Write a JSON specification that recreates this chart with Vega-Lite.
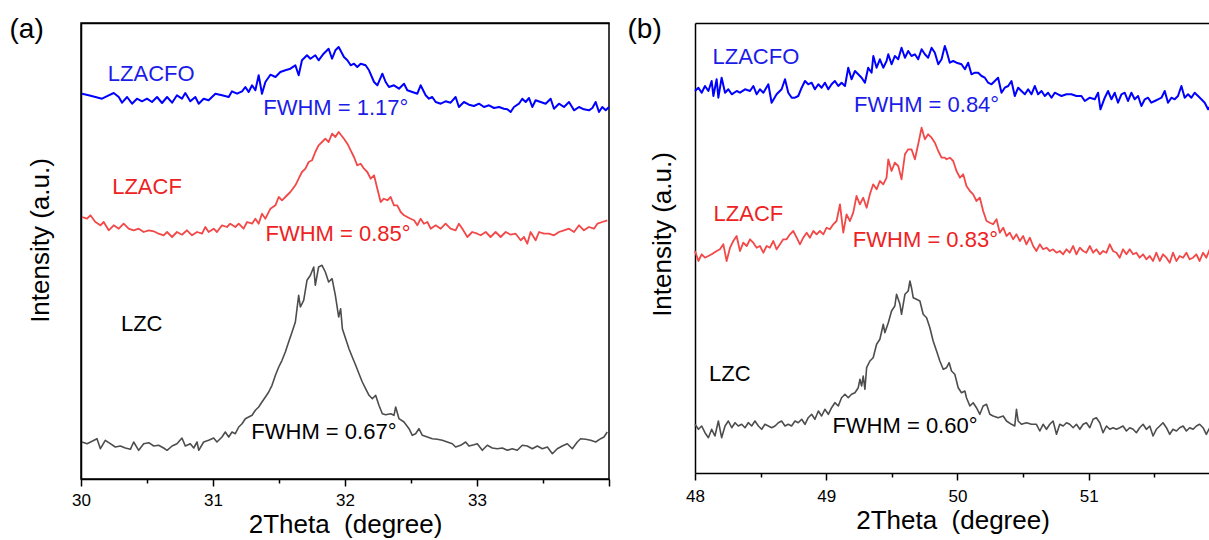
{
"$schema": "https://vega.github.io/schema/vega-lite/v6.json",
"background": "white",
"padding": {"left": 8, "top": 14, "right": 0, "bottom": 0},
"spacing": 16,
"config": {
  "font": "Liberation Sans",
  "axis": {"labelFont": "Liberation Sans", "titleFont": "Liberation Sans", "titleFontWeight": "normal", "labelColor": "#000", "titleColor": "#000", "domainColor": "#000", "tickColor": "#000", "grid": false},
  "text": {"font": "Liberation Sans"}
},
"datasets": {
"a": [
{"s":"LZACFO","t":30.008,"i":385.3},{"s":"LZACFO","t":30.058,"i":383.7},{"s":"LZACFO","t":30.109,"i":382},{"s":"LZACFO","t":30.159,"i":380.3},{"s":"LZACFO","t":30.21,"i":383.7},{"s":"LZACFO","t":30.248,"i":386},{"s":"LZACFO","t":30.286,"i":382},{"s":"LZACFO","t":30.311,"i":376.3},{"s":"LZACFO","t":30.349,"i":382},{"s":"LZACFO","t":30.387,"i":375.3},{"s":"LZACFO","t":30.424,"i":380.3},{"s":"LZACFO","t":30.462,"i":377.7},{"s":"LZACFO","t":30.5,"i":380.3},{"s":"LZACFO","t":30.538,"i":377},{"s":"LZACFO","t":30.576,"i":382},{"s":"LZACFO","t":30.614,"i":376},{"s":"LZACFO","t":30.652,"i":382},{"s":"LZACFO","t":30.69,"i":376.3},{"s":"LZACFO","t":30.727,"i":383.7},{"s":"LZACFO","t":30.765,"i":380.3},{"s":"LZACFO","t":30.79,"i":386},{"s":"LZACFO","t":30.828,"i":377.7},{"s":"LZACFO","t":30.866,"i":382},{"s":"LZACFO","t":30.892,"i":375.3},{"s":"LZACFO","t":30.929,"i":380.3},{"s":"LZACFO","t":30.967,"i":378.7},{"s":"LZACFO","t":31.018,"i":385.3},{"s":"LZACFO","t":31.068,"i":383.7},{"s":"LZACFO","t":31.119,"i":382},{"s":"LZACFO","t":31.144,"i":387.7},{"s":"LZACFO","t":31.182,"i":385.3},{"s":"LZACFO","t":31.22,"i":387.7},{"s":"LZACFO","t":31.245,"i":392},{"s":"LZACFO","t":31.27,"i":387},{"s":"LZACFO","t":31.296,"i":393.7},{"s":"LZACFO","t":31.321,"i":388.7},{"s":"LZACFO","t":31.346,"i":403.7},{"s":"LZACFO","t":31.371,"i":385.3},{"s":"LZACFO","t":31.397,"i":397},{"s":"LZACFO","t":31.435,"i":404.3},{"s":"LZACFO","t":31.473,"i":402},{"s":"LZACFO","t":31.51,"i":407},{"s":"LZACFO","t":31.548,"i":408.7},{"s":"LZACFO","t":31.586,"i":410.3},{"s":"LZACFO","t":31.624,"i":413.7},{"s":"LZACFO","t":31.649,"i":403.7},{"s":"LZACFO","t":31.674,"i":418.7},{"s":"LZACFO","t":31.712,"i":423.7},{"s":"LZACFO","t":31.738,"i":420.3},{"s":"LZACFO","t":31.775,"i":423.7},{"s":"LZACFO","t":31.8,"i":418.7},{"s":"LZACFO","t":31.838,"i":425.3},{"s":"LZACFO","t":31.876,"i":430.3},{"s":"LZACFO","t":31.902,"i":420.3},{"s":"LZACFO","t":31.927,"i":428.7},{"s":"LZACFO","t":31.952,"i":432},{"s":"LZACFO","t":31.992,"i":422},{"s":"LZACFO","t":32.018,"i":418.7},{"s":"LZACFO","t":32.043,"i":413.7},{"s":"LZACFO","t":32.068,"i":415.3},{"s":"LZACFO","t":32.093,"i":412},{"s":"LZACFO","t":32.119,"i":415.3},{"s":"LZACFO","t":32.156,"i":413.7},{"s":"LZACFO","t":32.182,"i":408.7},{"s":"LZACFO","t":32.22,"i":397},{"s":"LZACFO","t":32.245,"i":393.7},{"s":"LZACFO","t":32.283,"i":405.3},{"s":"LZACFO","t":32.308,"i":397},{"s":"LZACFO","t":32.333,"i":392},{"s":"LZACFO","t":32.371,"i":393.7},{"s":"LZACFO","t":32.409,"i":390.3},{"s":"LZACFO","t":32.447,"i":395.3},{"s":"LZACFO","t":32.472,"i":388.7},{"s":"LZACFO","t":32.51,"i":387},{"s":"LZACFO","t":32.548,"i":385.3},{"s":"LZACFO","t":32.573,"i":393.7},{"s":"LZACFO","t":32.611,"i":383.7},{"s":"LZACFO","t":32.636,"i":380.3},{"s":"LZACFO","t":32.661,"i":382},{"s":"LZACFO","t":32.687,"i":377},{"s":"LZACFO","t":32.725,"i":375.3},{"s":"LZACFO","t":32.762,"i":377.7},{"s":"LZACFO","t":32.8,"i":376.3},{"s":"LZACFO","t":32.838,"i":382},{"s":"LZACFO","t":32.863,"i":372},{"s":"LZACFO","t":32.901,"i":377},{"s":"LZACFO","t":32.939,"i":374.3},{"s":"LZACFO","t":32.977,"i":373},{"s":"LZACFO","t":33.015,"i":375.3},{"s":"LZACFO","t":33.053,"i":372},{"s":"LZACFO","t":33.091,"i":373.7},{"s":"LZACFO","t":33.129,"i":371},{"s":"LZACFO","t":33.167,"i":372},{"s":"LZACFO","t":33.204,"i":370.3},{"s":"LZACFO","t":33.23,"i":369.7},{"s":"LZACFO","t":33.255,"i":367},{"s":"LZACFO","t":33.28,"i":372},{"s":"LZACFO","t":33.318,"i":375.3},{"s":"LZACFO","t":33.343,"i":380.3},{"s":"LZACFO","t":33.369,"i":377},{"s":"LZACFO","t":33.394,"i":381},{"s":"LZACFO","t":33.419,"i":372},{"s":"LZACFO","t":33.444,"i":378.7},{"s":"LZACFO","t":33.482,"i":377},{"s":"LZACFO","t":33.52,"i":375.3},{"s":"LZACFO","t":33.558,"i":380.3},{"s":"LZACFO","t":33.583,"i":370.3},{"s":"LZACFO","t":33.621,"i":375.3},{"s":"LZACFO","t":33.659,"i":372},{"s":"LZACFO","t":33.697,"i":377},{"s":"LZACFO","t":33.735,"i":368.7},{"s":"LZACFO","t":33.773,"i":372},{"s":"LZACFO","t":33.81,"i":369.7},{"s":"LZACFO","t":33.848,"i":368.7},{"s":"LZACFO","t":33.874,"i":371},{"s":"LZACFO","t":33.899,"i":377},{"s":"LZACFO","t":33.924,"i":367},{"s":"LZACFO","t":33.949,"i":372},{"s":"LZACFO","t":33.975,"i":368.7},{"s":"LZACFO","t":34.0,"i":372},
{"s":"LZACF","t":30.008,"i":262},{"s":"LZACF","t":30.046,"i":260.3},{"s":"LZACF","t":30.071,"i":263.7},{"s":"LZACF","t":30.109,"i":257},{"s":"LZACF","t":30.147,"i":253.7},{"s":"LZACF","t":30.172,"i":257},{"s":"LZACF","t":30.21,"i":248.7},{"s":"LZACF","t":30.248,"i":253.7},{"s":"LZACF","t":30.286,"i":250.3},{"s":"LZACF","t":30.323,"i":255.3},{"s":"LZACF","t":30.361,"i":250.3},{"s":"LZACF","t":30.399,"i":248.7},{"s":"LZACF","t":30.437,"i":250.3},{"s":"LZACF","t":30.475,"i":247},{"s":"LZACF","t":30.513,"i":248.7},{"s":"LZACF","t":30.551,"i":247.7},{"s":"LZACF","t":30.588,"i":245.3},{"s":"LZACF","t":30.626,"i":243.7},{"s":"LZACF","t":30.652,"i":247},{"s":"LZACF","t":30.69,"i":242},{"s":"LZACF","t":30.727,"i":247},{"s":"LZACF","t":30.765,"i":244.3},{"s":"LZACF","t":30.803,"i":248.7},{"s":"LZACF","t":30.841,"i":243.7},{"s":"LZACF","t":30.879,"i":247},{"s":"LZACF","t":30.917,"i":245.3},{"s":"LZACF","t":30.942,"i":252},{"s":"LZACF","t":30.967,"i":247},{"s":"LZACF","t":31.005,"i":250.3},{"s":"LZACF","t":31.03,"i":247},{"s":"LZACF","t":31.068,"i":253.7},{"s":"LZACF","t":31.106,"i":252},{"s":"LZACF","t":31.131,"i":255.3},{"s":"LZACF","t":31.169,"i":252},{"s":"LZACF","t":31.195,"i":255.3},{"s":"LZACF","t":31.232,"i":250.3},{"s":"LZACF","t":31.258,"i":257},{"s":"LZACF","t":31.296,"i":255.3},{"s":"LZACF","t":31.321,"i":260.3},{"s":"LZACF","t":31.346,"i":255.3},{"s":"LZACF","t":31.371,"i":265.3},{"s":"LZACF","t":31.397,"i":260.3},{"s":"LZACF","t":31.435,"i":270.3},{"s":"LZACF","t":31.473,"i":273.7},{"s":"LZACF","t":31.498,"i":282},{"s":"LZACF","t":31.523,"i":278.7},{"s":"LZACF","t":31.548,"i":282},{"s":"LZACF","t":31.586,"i":287},{"s":"LZACF","t":31.624,"i":293.7},{"s":"LZACF","t":31.649,"i":300.3},{"s":"LZACF","t":31.674,"i":307},{"s":"LZACF","t":31.7,"i":310.3},{"s":"LZACF","t":31.725,"i":317},{"s":"LZACF","t":31.75,"i":318.7},{"s":"LZACF","t":31.775,"i":327},{"s":"LZACF","t":31.8,"i":333.7},{"s":"LZACF","t":31.826,"i":337},{"s":"LZACF","t":31.851,"i":340.3},{"s":"LZACF","t":31.876,"i":337},{"s":"LZACF","t":31.902,"i":345.3},{"s":"LZACF","t":31.927,"i":342},{"s":"LZACF","t":31.952,"i":347},{"s":"LZACF","t":31.992,"i":340.3},{"s":"LZACF","t":32.018,"i":335.3},{"s":"LZACF","t":32.043,"i":328.7},{"s":"LZACF","t":32.068,"i":322},{"s":"LZACF","t":32.093,"i":313.7},{"s":"LZACF","t":32.119,"i":315.3},{"s":"LZACF","t":32.144,"i":310.3},{"s":"LZACF","t":32.169,"i":307},{"s":"LZACF","t":32.194,"i":300.3},{"s":"LZACF","t":32.22,"i":303.7},{"s":"LZACF","t":32.245,"i":290.3},{"s":"LZACF","t":32.27,"i":277},{"s":"LZACF","t":32.295,"i":280.3},{"s":"LZACF","t":32.321,"i":278.7},{"s":"LZACF","t":32.346,"i":282},{"s":"LZACF","t":32.371,"i":273.7},{"s":"LZACF","t":32.396,"i":273.7},{"s":"LZACF","t":32.422,"i":267},{"s":"LZACF","t":32.447,"i":263.7},{"s":"LZACF","t":32.472,"i":262},{"s":"LZACF","t":32.497,"i":260.3},{"s":"LZACF","t":32.523,"i":258.7},{"s":"LZACF","t":32.548,"i":253.7},{"s":"LZACF","t":32.573,"i":260.3},{"s":"LZACF","t":32.598,"i":255.3},{"s":"LZACF","t":32.624,"i":257},{"s":"LZACF","t":32.649,"i":250.3},{"s":"LZACF","t":32.687,"i":253.7},{"s":"LZACF","t":32.725,"i":250.3},{"s":"LZACF","t":32.762,"i":255.3},{"s":"LZACF","t":32.8,"i":250.3},{"s":"LZACF","t":32.838,"i":248.7},{"s":"LZACF","t":32.863,"i":255.3},{"s":"LZACF","t":32.889,"i":250.3},{"s":"LZACF","t":32.927,"i":242},{"s":"LZACF","t":32.964,"i":247},{"s":"LZACF","t":33.002,"i":245.3},{"s":"LZACF","t":33.028,"i":243.7},{"s":"LZACF","t":33.066,"i":247},{"s":"LZACF","t":33.103,"i":242},{"s":"LZACF","t":33.141,"i":247},{"s":"LZACF","t":33.179,"i":242},{"s":"LZACF","t":33.217,"i":247},{"s":"LZACF","t":33.255,"i":244.3},{"s":"LZACF","t":33.293,"i":245.3},{"s":"LZACF","t":33.331,"i":238.7},{"s":"LZACF","t":33.356,"i":242},{"s":"LZACF","t":33.381,"i":235.3},{"s":"LZACF","t":33.406,"i":247},{"s":"LZACF","t":33.444,"i":238.7},{"s":"LZACF","t":33.47,"i":247},{"s":"LZACF","t":33.507,"i":245.3},{"s":"LZACF","t":33.545,"i":245.3},{"s":"LZACF","t":33.583,"i":243.7},{"s":"LZACF","t":33.621,"i":247},{"s":"LZACF","t":33.659,"i":248.7},{"s":"LZACF","t":33.697,"i":250.3},{"s":"LZACF","t":33.735,"i":247},{"s":"LZACF","t":33.773,"i":253.7},{"s":"LZACF","t":33.81,"i":248.7},{"s":"LZACF","t":33.848,"i":252},{"s":"LZACF","t":33.886,"i":250.3},{"s":"LZACF","t":33.912,"i":255.3},{"s":"LZACF","t":33.949,"i":257},{"s":"LZACF","t":33.987,"i":258.7},
{"s":"LZC","t":30.008,"i":37},{"s":"LZC","t":30.046,"i":35.3},{"s":"LZC","t":30.084,"i":37.7},{"s":"LZC","t":30.121,"i":40.3},{"s":"LZC","t":30.147,"i":30.3},{"s":"LZC","t":30.184,"i":38.7},{"s":"LZC","t":30.222,"i":35.3},{"s":"LZC","t":30.26,"i":32},{"s":"LZC","t":30.298,"i":33},{"s":"LZC","t":30.336,"i":31},{"s":"LZC","t":30.374,"i":29.7},{"s":"LZC","t":30.399,"i":37},{"s":"LZC","t":30.437,"i":28.7},{"s":"LZC","t":30.475,"i":35.3},{"s":"LZC","t":30.513,"i":36.3},{"s":"LZC","t":30.551,"i":33},{"s":"LZC","t":30.588,"i":33.7},{"s":"LZC","t":30.626,"i":31},{"s":"LZC","t":30.652,"i":28.7},{"s":"LZC","t":30.69,"i":33},{"s":"LZC","t":30.727,"i":35.3},{"s":"LZC","t":30.765,"i":41},{"s":"LZC","t":30.79,"i":33},{"s":"LZC","t":30.828,"i":35.3},{"s":"LZC","t":30.854,"i":31},{"s":"LZC","t":30.879,"i":37},{"s":"LZC","t":30.892,"i":28.7},{"s":"LZC","t":30.929,"i":37},{"s":"LZC","t":30.967,"i":38.7},{"s":"LZC","t":31.005,"i":41},{"s":"LZC","t":31.03,"i":37},{"s":"LZC","t":31.068,"i":42},{"s":"LZC","t":31.093,"i":47},{"s":"LZC","t":31.119,"i":42},{"s":"LZC","t":31.144,"i":47},{"s":"LZC","t":31.169,"i":45.3},{"s":"LZC","t":31.195,"i":52},{"s":"LZC","t":31.22,"i":55.3},{"s":"LZC","t":31.245,"i":60.3},{"s":"LZC","t":31.27,"i":62},{"s":"LZC","t":31.296,"i":63.7},{"s":"LZC","t":31.321,"i":68.7},{"s":"LZC","t":31.346,"i":72},{"s":"LZC","t":31.371,"i":77},{"s":"LZC","t":31.397,"i":82},{"s":"LZC","t":31.422,"i":87},{"s":"LZC","t":31.447,"i":93.7},{"s":"LZC","t":31.473,"i":103.7},{"s":"LZC","t":31.498,"i":112},{"s":"LZC","t":31.523,"i":118.7},{"s":"LZC","t":31.548,"i":127},{"s":"LZC","t":31.573,"i":137},{"s":"LZC","t":31.599,"i":147},{"s":"LZC","t":31.624,"i":157},{"s":"LZC","t":31.649,"i":183.7},{"s":"LZC","t":31.662,"i":172},{"s":"LZC","t":31.687,"i":178.7},{"s":"LZC","t":31.712,"i":198.7},{"s":"LZC","t":31.738,"i":203.7},{"s":"LZC","t":31.763,"i":212},{"s":"LZC","t":31.775,"i":193.7},{"s":"LZC","t":31.8,"i":212},{"s":"LZC","t":31.826,"i":213.7},{"s":"LZC","t":31.851,"i":207},{"s":"LZC","t":31.876,"i":197},{"s":"LZC","t":31.902,"i":200.3},{"s":"LZC","t":31.927,"i":183.7},{"s":"LZC","t":31.952,"i":162},{"s":"LZC","t":31.967,"i":170.3},{"s":"LZC","t":31.98,"i":150.3},{"s":"LZC","t":32.005,"i":140.3},{"s":"LZC","t":32.03,"i":130.3},{"s":"LZC","t":32.055,"i":122},{"s":"LZC","t":32.081,"i":113.7},{"s":"LZC","t":32.106,"i":105.3},{"s":"LZC","t":32.131,"i":97},{"s":"LZC","t":32.156,"i":90.3},{"s":"LZC","t":32.182,"i":83.7},{"s":"LZC","t":32.207,"i":80.3},{"s":"LZC","t":32.232,"i":83.7},{"s":"LZC","t":32.257,"i":73.7},{"s":"LZC","t":32.283,"i":65.3},{"s":"LZC","t":32.308,"i":64.3},{"s":"LZC","t":32.346,"i":65.3},{"s":"LZC","t":32.371,"i":63.7},{"s":"LZC","t":32.384,"i":72},{"s":"LZC","t":32.409,"i":60.3},{"s":"LZC","t":32.447,"i":57},{"s":"LZC","t":32.485,"i":50.3},{"s":"LZC","t":32.51,"i":43.7},{"s":"LZC","t":32.535,"i":45.3},{"s":"LZC","t":32.56,"i":50.3},{"s":"LZC","t":32.586,"i":43.7},{"s":"LZC","t":32.624,"i":42},{"s":"LZC","t":32.661,"i":40.3},{"s":"LZC","t":32.699,"i":39.7},{"s":"LZC","t":32.737,"i":38.7},{"s":"LZC","t":32.775,"i":37},{"s":"LZC","t":32.813,"i":35.3},{"s":"LZC","t":32.838,"i":32},{"s":"LZC","t":32.876,"i":33.7},{"s":"LZC","t":32.914,"i":37},{"s":"LZC","t":32.939,"i":33},{"s":"LZC","t":32.977,"i":34.3},{"s":"LZC","t":33.002,"i":35.3},{"s":"LZC","t":33.04,"i":28.7},{"s":"LZC","t":33.078,"i":33.7},{"s":"LZC","t":33.116,"i":31},{"s":"LZC","t":33.154,"i":30.3},{"s":"LZC","t":33.192,"i":31},{"s":"LZC","t":33.23,"i":28.7},{"s":"LZC","t":33.267,"i":30.3},{"s":"LZC","t":33.305,"i":28.7},{"s":"LZC","t":33.343,"i":33.7},{"s":"LZC","t":33.381,"i":33},{"s":"LZC","t":33.419,"i":30.3},{"s":"LZC","t":33.457,"i":33},{"s":"LZC","t":33.495,"i":30.3},{"s":"LZC","t":33.533,"i":32},{"s":"LZC","t":33.571,"i":25.3},{"s":"LZC","t":33.608,"i":30.3},{"s":"LZC","t":33.646,"i":33},{"s":"LZC","t":33.684,"i":35.3},{"s":"LZC","t":33.722,"i":30.3},{"s":"LZC","t":33.76,"i":37},{"s":"LZC","t":33.785,"i":40.3},{"s":"LZC","t":33.823,"i":39.7},{"s":"LZC","t":33.861,"i":38.7},{"s":"LZC","t":33.899,"i":37},{"s":"LZC","t":33.937,"i":40.3},{"s":"LZC","t":33.962,"i":42},{"s":"LZC","t":33.987,"i":47}
],
"b": [
{"s":"LZACFO","t":48.0,"i":382},{"s":"LZACFO","t":48.026,"i":385.3},{"s":"LZACFO","t":48.051,"i":380.3},{"s":"LZACFO","t":48.076,"i":387},{"s":"LZACFO","t":48.102,"i":382},{"s":"LZACFO","t":48.127,"i":392},{"s":"LZACFO","t":48.14,"i":377},{"s":"LZACFO","t":48.165,"i":393.7},{"s":"LZACFO","t":48.178,"i":375.3},{"s":"LZACFO","t":48.203,"i":395.3},{"s":"LZACFO","t":48.229,"i":380.3},{"s":"LZACFO","t":48.254,"i":383.7},{"s":"LZACFO","t":48.28,"i":378.7},{"s":"LZACFO","t":48.318,"i":382},{"s":"LZACFO","t":48.343,"i":380.3},{"s":"LZACFO","t":48.381,"i":383.7},{"s":"LZACFO","t":48.419,"i":382},{"s":"LZACFO","t":48.445,"i":387},{"s":"LZACFO","t":48.47,"i":378.7},{"s":"LZACFO","t":48.495,"i":383.7},{"s":"LZACFO","t":48.521,"i":380.3},{"s":"LZACFO","t":48.559,"i":388.7},{"s":"LZACFO","t":48.584,"i":370.3},{"s":"LZACFO","t":48.622,"i":378.7},{"s":"LZACFO","t":48.66,"i":383.7},{"s":"LZACFO","t":48.686,"i":393.7},{"s":"LZACFO","t":48.711,"i":380.3},{"s":"LZACFO","t":48.737,"i":375.3},{"s":"LZACFO","t":48.762,"i":375.3},{"s":"LZACFO","t":48.787,"i":377},{"s":"LZACFO","t":48.813,"i":385.3},{"s":"LZACFO","t":48.838,"i":392},{"s":"LZACFO","t":48.863,"i":388.7},{"s":"LZACFO","t":48.889,"i":390.3},{"s":"LZACFO","t":48.914,"i":383.7},{"s":"LZACFO","t":48.94,"i":388.7},{"s":"LZACFO","t":48.965,"i":385.3},{"s":"LZACFO","t":48.99,"i":390.3},{"s":"LZACFO","t":49.016,"i":383.7},{"s":"LZACFO","t":49.041,"i":388.7},{"s":"LZACFO","t":49.066,"i":392},{"s":"LZACFO","t":49.092,"i":387},{"s":"LZACFO","t":49.117,"i":390.3},{"s":"LZACFO","t":49.143,"i":387},{"s":"LZACFO","t":49.168,"i":405.3},{"s":"LZACFO","t":49.193,"i":393.7},{"s":"LZACFO","t":49.219,"i":402},{"s":"LZACFO","t":49.244,"i":398.7},{"s":"LZACFO","t":49.27,"i":395.3},{"s":"LZACFO","t":49.295,"i":390.3},{"s":"LZACFO","t":49.32,"i":405.3},{"s":"LZACFO","t":49.346,"i":400.3},{"s":"LZACFO","t":49.359,"i":417},{"s":"LZACFO","t":49.384,"i":405.3},{"s":"LZACFO","t":49.409,"i":413.7},{"s":"LZACFO","t":49.435,"i":405.3},{"s":"LZACFO","t":49.46,"i":412},{"s":"LZACFO","t":49.473,"i":418.7},{"s":"LZACFO","t":49.498,"i":408.7},{"s":"LZACFO","t":49.523,"i":417},{"s":"LZACFO","t":49.549,"i":413.7},{"s":"LZACFO","t":49.574,"i":425.3},{"s":"LZACFO","t":49.6,"i":415.3},{"s":"LZACFO","t":49.625,"i":422},{"s":"LZACFO","t":49.65,"i":417},{"s":"LZACFO","t":49.676,"i":418.7},{"s":"LZACFO","t":49.701,"i":413.7},{"s":"LZACFO","t":49.727,"i":423.7},{"s":"LZACFO","t":49.752,"i":418.7},{"s":"LZACFO","t":49.777,"i":415.3},{"s":"LZACFO","t":49.803,"i":425.3},{"s":"LZACFO","t":49.828,"i":420.3},{"s":"LZACFO","t":49.854,"i":408.7},{"s":"LZACFO","t":49.879,"i":413.7},{"s":"LZACFO","t":49.904,"i":427},{"s":"LZACFO","t":49.917,"i":422},{"s":"LZACFO","t":49.942,"i":410.3},{"s":"LZACFO","t":49.968,"i":412},{"s":"LZACFO","t":49.993,"i":410.3},{"s":"LZACFO","t":50.031,"i":408.7},{"s":"LZACFO","t":50.057,"i":403.7},{"s":"LZACFO","t":50.082,"i":410.3},{"s":"LZACFO","t":50.107,"i":398.7},{"s":"LZACFO","t":50.133,"i":400.3},{"s":"LZACFO","t":50.158,"i":400.3},{"s":"LZACFO","t":50.184,"i":397},{"s":"LZACFO","t":50.209,"i":395.3},{"s":"LZACFO","t":50.234,"i":390.3},{"s":"LZACFO","t":50.26,"i":388.7},{"s":"LZACFO","t":50.285,"i":392},{"s":"LZACFO","t":50.31,"i":395.3},{"s":"LZACFO","t":50.336,"i":380.3},{"s":"LZACFO","t":50.361,"i":385.3},{"s":"LZACFO","t":50.387,"i":387},{"s":"LZACFO","t":50.412,"i":392},{"s":"LZACFO","t":50.437,"i":377},{"s":"LZACFO","t":50.463,"i":385.3},{"s":"LZACFO","t":50.488,"i":382},{"s":"LZACFO","t":50.514,"i":378.7},{"s":"LZACFO","t":50.539,"i":383.7},{"s":"LZACFO","t":50.564,"i":378.7},{"s":"LZACFO","t":50.59,"i":387},{"s":"LZACFO","t":50.615,"i":378.7},{"s":"LZACFO","t":50.641,"i":382},{"s":"LZACFO","t":50.666,"i":377},{"s":"LZACFO","t":50.691,"i":380.3},{"s":"LZACFO","t":50.717,"i":375.3},{"s":"LZACFO","t":50.742,"i":380.3},{"s":"LZACFO","t":50.767,"i":378.7},{"s":"LZACFO","t":50.793,"i":377},{"s":"LZACFO","t":50.831,"i":378.7},{"s":"LZACFO","t":50.869,"i":378.7},{"s":"LZACFO","t":50.907,"i":377},{"s":"LZACFO","t":50.945,"i":377},{"s":"LZACFO","t":50.971,"i":372},{"s":"LZACFO","t":51.009,"i":375.3},{"s":"LZACFO","t":51.047,"i":373.7},{"s":"LZACFO","t":51.072,"i":380.3},{"s":"LZACFO","t":51.09,"i":363.7},{"s":"LZACFO","t":51.123,"i":375.3},{"s":"LZACFO","t":51.148,"i":382},{"s":"LZACFO","t":51.174,"i":373.7},{"s":"LZACFO","t":51.199,"i":380.3},{"s":"LZACFO","t":51.224,"i":370.3},{"s":"LZACFO","t":51.25,"i":378.7},{"s":"LZACFO","t":51.275,"i":380.3},{"s":"LZACFO","t":51.3,"i":372},{"s":"LZACFO","t":51.326,"i":380.3},{"s":"LZACFO","t":51.351,"i":373.7},{"s":"LZACFO","t":51.377,"i":377},{"s":"LZACFO","t":51.402,"i":367},{"s":"LZACFO","t":51.428,"i":373.7},{"s":"LZACFO","t":51.453,"i":375.3},{"s":"LZACFO","t":51.478,"i":370.3},{"s":"LZACFO","t":51.504,"i":372},{"s":"LZACFO","t":51.529,"i":373.7},{"s":"LZACFO","t":51.555,"i":375.3},{"s":"LZACFO","t":51.58,"i":382},{"s":"LZACFO","t":51.605,"i":370.3},{"s":"LZACFO","t":51.631,"i":375.3},{"s":"LZACFO","t":51.656,"i":373.7},{"s":"LZACFO","t":51.681,"i":377},{"s":"LZACFO","t":51.707,"i":387},{"s":"LZACFO","t":51.732,"i":375.3},{"s":"LZACFO","t":51.758,"i":378.7},{"s":"LZACFO","t":51.783,"i":375.3},{"s":"LZACFO","t":51.808,"i":380.3},{"s":"LZACFO","t":51.834,"i":377},{"s":"LZACFO","t":51.859,"i":373.7},{"s":"LZACFO","t":51.885,"i":370.3},{"s":"LZACFO","t":51.91,"i":363.7},{"s":"LZACFO","t":51.928,"i":367},
{"s":"LZACF","t":48.0,"i":222},{"s":"LZACF","t":48.026,"i":212},{"s":"LZACF","t":48.051,"i":218.7},{"s":"LZACF","t":48.076,"i":215.3},{"s":"LZACF","t":48.102,"i":217},{"s":"LZACF","t":48.127,"i":218.7},{"s":"LZACF","t":48.165,"i":222},{"s":"LZACF","t":48.19,"i":223.7},{"s":"LZACF","t":48.216,"i":228.7},{"s":"LZACF","t":48.241,"i":212},{"s":"LZACF","t":48.267,"i":225.3},{"s":"LZACF","t":48.292,"i":232},{"s":"LZACF","t":48.317,"i":237},{"s":"LZACF","t":48.343,"i":222},{"s":"LZACF","t":48.368,"i":230.3},{"s":"LZACF","t":48.394,"i":227},{"s":"LZACF","t":48.419,"i":233.7},{"s":"LZACF","t":48.444,"i":230.3},{"s":"LZACF","t":48.47,"i":225.3},{"s":"LZACF","t":48.495,"i":227},{"s":"LZACF","t":48.521,"i":220.3},{"s":"LZACF","t":48.546,"i":227},{"s":"LZACF","t":48.571,"i":225.3},{"s":"LZACF","t":48.597,"i":232},{"s":"LZACF","t":48.622,"i":223.7},{"s":"LZACF","t":48.648,"i":228.7},{"s":"LZACF","t":48.673,"i":233.7},{"s":"LZACF","t":48.698,"i":233.7},{"s":"LZACF","t":48.724,"i":238.7},{"s":"LZACF","t":48.749,"i":242},{"s":"LZACF","t":48.775,"i":235.3},{"s":"LZACF","t":48.8,"i":228.7},{"s":"LZACF","t":48.825,"i":235.3},{"s":"LZACF","t":48.851,"i":240.3},{"s":"LZACF","t":48.876,"i":235.3},{"s":"LZACF","t":48.902,"i":242},{"s":"LZACF","t":48.927,"i":238.7},{"s":"LZACF","t":48.952,"i":242},{"s":"LZACF","t":48.978,"i":238.7},{"s":"LZACF","t":49.003,"i":245.3},{"s":"LZACF","t":49.028,"i":243.7},{"s":"LZACF","t":49.054,"i":248.7},{"s":"LZACF","t":49.079,"i":252},{"s":"LZACF","t":49.105,"i":268.7},{"s":"LZACF","t":49.13,"i":240.3},{"s":"LZACF","t":49.155,"i":258.7},{"s":"LZACF","t":49.181,"i":252},{"s":"LZACF","t":49.206,"i":260.3},{"s":"LZACF","t":49.231,"i":277},{"s":"LZACF","t":49.257,"i":268.7},{"s":"LZACF","t":49.282,"i":275.3},{"s":"LZACF","t":49.308,"i":265.3},{"s":"LZACF","t":49.333,"i":278.7},{"s":"LZACF","t":49.358,"i":288.7},{"s":"LZACF","t":49.384,"i":283.7},{"s":"LZACF","t":49.409,"i":292},{"s":"LZACF","t":49.435,"i":288.7},{"s":"LZACF","t":49.46,"i":295.3},{"s":"LZACF","t":49.473,"i":313.7},{"s":"LZACF","t":49.498,"i":302},{"s":"LZACF","t":49.523,"i":310.3},{"s":"LZACF","t":49.549,"i":307},{"s":"LZACF","t":49.574,"i":293.7},{"s":"LZACF","t":49.6,"i":318.7},{"s":"LZACF","t":49.625,"i":323.7},{"s":"LZACF","t":49.65,"i":323.7},{"s":"LZACF","t":49.676,"i":313.7},{"s":"LZACF","t":49.701,"i":328.7},{"s":"LZACF","t":49.727,"i":345.3},{"s":"LZACF","t":49.752,"i":333.7},{"s":"LZACF","t":49.777,"i":338.7},{"s":"LZACF","t":49.803,"i":335.3},{"s":"LZACF","t":49.828,"i":330.3},{"s":"LZACF","t":49.854,"i":322},{"s":"LZACF","t":49.879,"i":315.3},{"s":"LZACF","t":49.904,"i":315.3},{"s":"LZACF","t":49.917,"i":313.7},{"s":"LZACF","t":49.942,"i":315.3},{"s":"LZACF","t":49.968,"i":312},{"s":"LZACF","t":49.993,"i":302},{"s":"LZACF","t":50.019,"i":295.3},{"s":"LZACF","t":50.044,"i":298.7},{"s":"LZACF","t":50.069,"i":287},{"s":"LZACF","t":50.095,"i":282},{"s":"LZACF","t":50.12,"i":278.7},{"s":"LZACF","t":50.145,"i":272},{"s":"LZACF","t":50.171,"i":275.3},{"s":"LZACF","t":50.196,"i":262},{"s":"LZACF","t":50.222,"i":252},{"s":"LZACF","t":50.247,"i":250.3},{"s":"LZACF","t":50.272,"i":248.7},{"s":"LZACF","t":50.298,"i":253.7},{"s":"LZACF","t":50.323,"i":240.3},{"s":"LZACF","t":50.349,"i":245.3},{"s":"LZACF","t":50.374,"i":237},{"s":"LZACF","t":50.399,"i":240.3},{"s":"LZACF","t":50.425,"i":233.7},{"s":"LZACF","t":50.45,"i":238.7},{"s":"LZACF","t":50.476,"i":232},{"s":"LZACF","t":50.501,"i":237},{"s":"LZACF","t":50.526,"i":228.7},{"s":"LZACF","t":50.552,"i":235.3},{"s":"LZACF","t":50.577,"i":227},{"s":"LZACF","t":50.602,"i":222},{"s":"LZACF","t":50.628,"i":228.7},{"s":"LZACF","t":50.653,"i":223.7},{"s":"LZACF","t":50.679,"i":225.3},{"s":"LZACF","t":50.704,"i":222},{"s":"LZACF","t":50.729,"i":223.7},{"s":"LZACF","t":50.755,"i":220.3},{"s":"LZACF","t":50.78,"i":222},{"s":"LZACF","t":50.806,"i":218.7},{"s":"LZACF","t":50.831,"i":223.7},{"s":"LZACF","t":50.856,"i":220.3},{"s":"LZACF","t":50.882,"i":227},{"s":"LZACF","t":50.907,"i":218.7},{"s":"LZACF","t":50.933,"i":225.3},{"s":"LZACF","t":50.958,"i":222},{"s":"LZACF","t":50.983,"i":220.3},{"s":"LZACF","t":51.009,"i":227},{"s":"LZACF","t":51.034,"i":220.3},{"s":"LZACF","t":51.059,"i":223.7},{"s":"LZACF","t":51.085,"i":218.7},{"s":"LZACF","t":51.11,"i":222},{"s":"LZACF","t":51.136,"i":220.3},{"s":"LZACF","t":51.161,"i":228.7},{"s":"LZACF","t":51.186,"i":222},{"s":"LZACF","t":51.212,"i":220.3},{"s":"LZACF","t":51.237,"i":215.3},{"s":"LZACF","t":51.262,"i":223.7},{"s":"LZACF","t":51.288,"i":218.7},{"s":"LZACF","t":51.313,"i":223.7},{"s":"LZACF","t":51.339,"i":218.7},{"s":"LZACF","t":51.364,"i":220.3},{"s":"LZACF","t":51.389,"i":215.3},{"s":"LZACF","t":51.415,"i":218.7},{"s":"LZACF","t":51.44,"i":213.7},{"s":"LZACF","t":51.466,"i":217},{"s":"LZACF","t":51.491,"i":212},{"s":"LZACF","t":51.516,"i":220.3},{"s":"LZACF","t":51.542,"i":212},{"s":"LZACF","t":51.567,"i":218.7},{"s":"LZACF","t":51.593,"i":215.3},{"s":"LZACF","t":51.618,"i":210.3},{"s":"LZACF","t":51.643,"i":220.3},{"s":"LZACF","t":51.669,"i":212},{"s":"LZACF","t":51.694,"i":217},{"s":"LZACF","t":51.72,"i":215.3},{"s":"LZACF","t":51.745,"i":220.3},{"s":"LZACF","t":51.77,"i":213.7},{"s":"LZACF","t":51.796,"i":215.3},{"s":"LZACF","t":51.821,"i":218.7},{"s":"LZACF","t":51.846,"i":212},{"s":"LZACF","t":51.872,"i":220.3},{"s":"LZACF","t":51.897,"i":215.3},{"s":"LZACF","t":51.923,"i":223.7},
{"s":"LZC","t":48.0,"i":48.7},{"s":"LZC","t":48.026,"i":43.7},{"s":"LZC","t":48.051,"i":47},{"s":"LZC","t":48.076,"i":40.3},{"s":"LZC","t":48.102,"i":35.3},{"s":"LZC","t":48.127,"i":43.7},{"s":"LZC","t":48.152,"i":37},{"s":"LZC","t":48.178,"i":52},{"s":"LZC","t":48.203,"i":35.3},{"s":"LZC","t":48.229,"i":47},{"s":"LZC","t":48.254,"i":52},{"s":"LZC","t":48.28,"i":45.3},{"s":"LZC","t":48.305,"i":50.3},{"s":"LZC","t":48.33,"i":47},{"s":"LZC","t":48.356,"i":48.7},{"s":"LZC","t":48.381,"i":45.3},{"s":"LZC","t":48.406,"i":50.3},{"s":"LZC","t":48.432,"i":47},{"s":"LZC","t":48.457,"i":52},{"s":"LZC","t":48.483,"i":47},{"s":"LZC","t":48.508,"i":43.7},{"s":"LZC","t":48.533,"i":48.7},{"s":"LZC","t":48.559,"i":47},{"s":"LZC","t":48.584,"i":45.3},{"s":"LZC","t":48.61,"i":47},{"s":"LZC","t":48.635,"i":50.3},{"s":"LZC","t":48.66,"i":52},{"s":"LZC","t":48.686,"i":47},{"s":"LZC","t":48.711,"i":48.7},{"s":"LZC","t":48.736,"i":47},{"s":"LZC","t":48.762,"i":52},{"s":"LZC","t":48.787,"i":50.3},{"s":"LZC","t":48.813,"i":53.7},{"s":"LZC","t":48.838,"i":48.7},{"s":"LZC","t":48.863,"i":55.3},{"s":"LZC","t":48.889,"i":58.7},{"s":"LZC","t":48.914,"i":53.7},{"s":"LZC","t":48.94,"i":62},{"s":"LZC","t":48.965,"i":57},{"s":"LZC","t":48.99,"i":63.7},{"s":"LZC","t":49.016,"i":58.7},{"s":"LZC","t":49.041,"i":65.3},{"s":"LZC","t":49.066,"i":70.3},{"s":"LZC","t":49.092,"i":67},{"s":"LZC","t":49.117,"i":75.3},{"s":"LZC","t":49.143,"i":78.7},{"s":"LZC","t":49.168,"i":75.3},{"s":"LZC","t":49.193,"i":78.7},{"s":"LZC","t":49.219,"i":80.3},{"s":"LZC","t":49.244,"i":85.3},{"s":"LZC","t":49.257,"i":93.7},{"s":"LZC","t":49.27,"i":87},{"s":"LZC","t":49.282,"i":97},{"s":"LZC","t":49.295,"i":83.7},{"s":"LZC","t":49.308,"i":105.3},{"s":"LZC","t":49.333,"i":112},{"s":"LZC","t":49.358,"i":115.3},{"s":"LZC","t":49.384,"i":128.7},{"s":"LZC","t":49.409,"i":133.7},{"s":"LZC","t":49.435,"i":148.7},{"s":"LZC","t":49.447,"i":140.3},{"s":"LZC","t":49.473,"i":150.3},{"s":"LZC","t":49.498,"i":162},{"s":"LZC","t":49.523,"i":167},{"s":"LZC","t":49.536,"i":178.7},{"s":"LZC","t":49.562,"i":168.7},{"s":"LZC","t":49.574,"i":158.7},{"s":"LZC","t":49.6,"i":178.7},{"s":"LZC","t":49.625,"i":182},{"s":"LZC","t":49.638,"i":192},{"s":"LZC","t":49.65,"i":185.3},{"s":"LZC","t":49.663,"i":175.3},{"s":"LZC","t":49.688,"i":173.7},{"s":"LZC","t":49.714,"i":172},{"s":"LZC","t":49.739,"i":158.7},{"s":"LZC","t":49.765,"i":155.3},{"s":"LZC","t":49.79,"i":145.3},{"s":"LZC","t":49.815,"i":132},{"s":"LZC","t":49.841,"i":122},{"s":"LZC","t":49.866,"i":112},{"s":"LZC","t":49.892,"i":103.7},{"s":"LZC","t":49.917,"i":105.3},{"s":"LZC","t":49.937,"i":110.3},{"s":"LZC","t":49.955,"i":102},{"s":"LZC","t":49.98,"i":98.7},{"s":"LZC","t":50.006,"i":85.3},{"s":"LZC","t":50.031,"i":80.3},{"s":"LZC","t":50.057,"i":82},{"s":"LZC","t":50.069,"i":75.3},{"s":"LZC","t":50.095,"i":67},{"s":"LZC","t":50.12,"i":70.3},{"s":"LZC","t":50.145,"i":65.3},{"s":"LZC","t":50.171,"i":58.7},{"s":"LZC","t":50.196,"i":67},{"s":"LZC","t":50.222,"i":68.7},{"s":"LZC","t":50.247,"i":58.7},{"s":"LZC","t":50.272,"i":57},{"s":"LZC","t":50.31,"i":55.3},{"s":"LZC","t":50.349,"i":57},{"s":"LZC","t":50.374,"i":52},{"s":"LZC","t":50.412,"i":48.7},{"s":"LZC","t":50.437,"i":47},{"s":"LZC","t":50.45,"i":63.7},{"s":"LZC","t":50.463,"i":52},{"s":"LZC","t":50.488,"i":48.7},{"s":"LZC","t":50.526,"i":50.3},{"s":"LZC","t":50.564,"i":48.7},{"s":"LZC","t":50.602,"i":48.7},{"s":"LZC","t":50.628,"i":42},{"s":"LZC","t":50.653,"i":48.7},{"s":"LZC","t":50.679,"i":43.7},{"s":"LZC","t":50.704,"i":48.7},{"s":"LZC","t":50.729,"i":52},{"s":"LZC","t":50.755,"i":38.7},{"s":"LZC","t":50.78,"i":48.7},{"s":"LZC","t":50.806,"i":47},{"s":"LZC","t":50.831,"i":50.3},{"s":"LZC","t":50.856,"i":48.7},{"s":"LZC","t":50.882,"i":45.3},{"s":"LZC","t":50.907,"i":48.7},{"s":"LZC","t":50.933,"i":43.7},{"s":"LZC","t":50.958,"i":48.7},{"s":"LZC","t":50.983,"i":50.3},{"s":"LZC","t":51.009,"i":45.3},{"s":"LZC","t":51.034,"i":53.7},{"s":"LZC","t":51.059,"i":55.3},{"s":"LZC","t":51.085,"i":50.3},{"s":"LZC","t":51.11,"i":40.3},{"s":"LZC","t":51.136,"i":47},{"s":"LZC","t":51.161,"i":43.7},{"s":"LZC","t":51.186,"i":45.3},{"s":"LZC","t":51.212,"i":43.7},{"s":"LZC","t":51.237,"i":45.3},{"s":"LZC","t":51.262,"i":47},{"s":"LZC","t":51.288,"i":42},{"s":"LZC","t":51.313,"i":45.3},{"s":"LZC","t":51.339,"i":43.7},{"s":"LZC","t":51.364,"i":40.3},{"s":"LZC","t":51.389,"i":45.3},{"s":"LZC","t":51.415,"i":48.7},{"s":"LZC","t":51.44,"i":43.7},{"s":"LZC","t":51.466,"i":47},{"s":"LZC","t":51.491,"i":37},{"s":"LZC","t":51.516,"i":43.7},{"s":"LZC","t":51.542,"i":47},{"s":"LZC","t":51.567,"i":50.3},{"s":"LZC","t":51.593,"i":45.3},{"s":"LZC","t":51.618,"i":38.7},{"s":"LZC","t":51.643,"i":43.7},{"s":"LZC","t":51.669,"i":42},{"s":"LZC","t":51.694,"i":45.3},{"s":"LZC","t":51.72,"i":47},{"s":"LZC","t":51.745,"i":42},{"s":"LZC","t":51.77,"i":45.3},{"s":"LZC","t":51.796,"i":43.7},{"s":"LZC","t":51.821,"i":47},{"s":"LZC","t":51.846,"i":48.7},{"s":"LZC","t":51.872,"i":45.3},{"s":"LZC","t":51.897,"i":38.7},{"s":"LZC","t":51.923,"i":45.3}
],
"la": [
{"s":"LZACFO","label":"LZACFO","t":30.532,"i":405},
{"s":"LZACFO","label":"FWHM = 1.17°","t":31.93,"i":371.5},
{"s":"LZACF","label":"LZACF","t":30.5,"i":292},
{"s":"LZACF","label":"FWHM = 0.85°","t":31.947,"i":245.3},
{"s":"LZC","label":"LZC","t":30.46,"i":155.3},
{"s":"LZC","label":"FWHM = 0.67°","t":31.84,"i":47}
],
"lb": [
{"s":"LZACFO","label":"LZACFO","t":48.464,"i":416.2},
{"s":"LZACFO","label":"FWHM = 0.84°","t":49.765,"i":367.8},
{"s":"LZACF","label":"LZACF","t":48.407,"i":258.7},
{"s":"LZACF","label":"FWHM = 0.83°","t":49.756,"i":232.8},
{"s":"LZC","label":"LZC","t":48.266,"i":99.5},
{"s":"LZC","label":"FWHM = 0.60°","t":49.6,"i":47}
]
},
"hconcat": [
{
  "width": 528, "height": 456,
  "view": {"stroke": "#000", "strokeWidth": 1.5},
  "resolve": {"scale": {"color": "independent"}, "axis": {"x": "independent", "y": "independent"}},
  "layer": [
    {
      "data": {"name": "a"},
      "mark": {"type": "line", "strokeJoin": "round"},
      "encoding": {
        "x": {"field": "t", "type": "quantitative", "scale": {"domain": [30, 34], "nice": false, "zero": false},
          "axis": {"values": [30,30.5,31,31.5,32,32.5,33,33.5,34], "labelExpr": "datum.value % 1 === 0 && datum.value < 34 ? format(datum.value, 'd') : ''", "labelFontSize": 17, "labelPadding": 6, "labelFlush": false, "tickSize": {"condition": {"test": "datum.value % 1 === 0", "value": 7}, "value": 4}, "tickWidth": 1.5, "domainWidth": 1.5, "title": "2Theta\u00a0 (degree)", "titleFontSize": 26, "titlePadding": 3}},
        "y": {"field": "i", "type": "quantitative", "scale": {"domain": [0, 456], "nice": false, "zero": false},
          "axis": {"labels": false, "ticks": false, "domainWidth": 1.5, "title": "Intensity (a.u.)", "titleFontSize": 26, "titlePadding": 28, "titleY": 217}},
        "color": {"field": "s", "type": "nominal", "scale": {"domain": ["LZACFO","LZACF","LZC"], "range": ["#0000ff","#f24848","#4d4d4d"]}, "legend": null},
        "strokeWidth": {"field": "s", "type": "ordinal", "scale": {"domain": ["LZACFO","LZACF","LZC"], "range": [2, 1.6, 1.6]}, "legend": null}
      }
    },
    {
      "data": {"name": "la"},
      "mark": {"type": "text", "fontSize": 22, "align": "center", "baseline": "middle"},
      "encoding": {
        "x": {"field": "t", "type": "quantitative", "axis": {"orient": "top", "labels": false, "ticks": false, "domainWidth": 1.5, "title": "(a)", "titleX": -72, "titleY": 14, "titleAlign": "left", "titleBaseline": "alphabetic", "titleAngle": 0, "titleFontSize": 28}},
        "y": {"field": "i", "type": "quantitative", "axis": null},
        "text": {"field": "label"},
        "color": {"field": "s", "type": "nominal", "scale": {"domain": ["LZACFO","LZACF","LZC"], "range": ["#1c1ce8","#ee2222","#000000"]}, "legend": null}
      }
    }
  ]
},
{
  "width": 515, "height": 450,
  "view": {"stroke": null},
  "resolve": {"scale": {"color": "independent"}, "axis": {"x": "independent", "y": "independent"}},
  "layer": [
    {
      "data": {"name": "b"},
      "mark": {"type": "line", "strokeJoin": "round"},
      "encoding": {
        "x": {"field": "t", "type": "quantitative", "scale": {"domain": [48, 51.925], "nice": false, "zero": false},
          "axis": {"values": [48,48.5,49,49.5,50,50.5,51,51.5], "labelExpr": "datum.value % 1 === 0 ? format(datum.value, 'd') : ''", "labelFontSize": 17, "labelPadding": 8, "labelFlush": false, "tickSize": {"condition": {"test": "datum.value % 1 === 0", "value": 7}, "value": 4}, "tickWidth": 1.5, "domainWidth": 1.5, "title": "2Theta\u00a0 (degree)", "titleFontSize": 26, "titlePadding": 3}},
        "y": {"field": "i", "type": "quantitative", "scale": {"domain": [0, 450], "nice": false, "zero": false},
          "axis": {"labels": false, "ticks": false, "domainWidth": 1.5, "title": "Intensity (a.u.)", "titleFontSize": 26, "titlePadding": 20, "titleY": 211}},
        "color": {"field": "s", "type": "nominal", "scale": {"domain": ["LZACFO","LZACF","LZC"], "range": ["#0000ff","#f24848","#4d4d4d"]}, "legend": null},
        "strokeWidth": {"field": "s", "type": "ordinal", "scale": {"domain": ["LZACFO","LZACF","LZC"], "range": [2, 1.6, 1.6]}, "legend": null}
      }
    },
    {
      "data": {"name": "lb"},
      "mark": {"type": "text", "fontSize": 22, "align": "center", "baseline": "middle"},
      "encoding": {
        "x": {"field": "t", "type": "quantitative", "axis": {"orient": "top", "labels": false, "ticks": false, "domainWidth": 1.5, "title": "(b)", "titleX": -68, "titleY": 14, "titleAlign": "left", "titleBaseline": "alphabetic", "titleAngle": 0, "titleFontSize": 28}},
        "y": {"field": "i", "type": "quantitative", "axis": null},
        "text": {"field": "label"},
        "color": {"field": "s", "type": "nominal", "scale": {"domain": ["LZACFO","LZACF","LZC"], "range": ["#1c1ce8","#ee2222","#000000"]}, "legend": null}
      }
    }
  ]
}
]
}
